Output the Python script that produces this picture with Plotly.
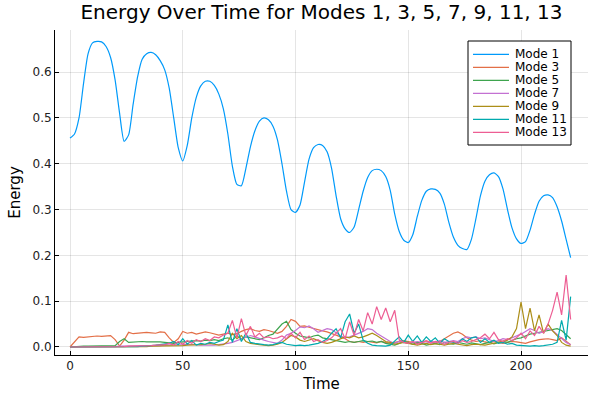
import plotly.graph_objects as go

time = list(range(0, 224, 2))

mode1 = [
    0.456, 0.465, 0.50, 0.575, 0.64, 0.664, 0.667, 0.666, 0.656, 0.632,
    0.583, 0.51, 0.449, 0.463, 0.53, 0.59, 0.628, 0.64, 0.643, 0.638,
    0.625, 0.605, 0.565, 0.5, 0.435, 0.406, 0.44, 0.5, 0.545, 0.57,
    0.58, 0.58, 0.571, 0.552, 0.52, 0.465, 0.395, 0.355, 0.352, 0.39,
    0.437, 0.472, 0.493, 0.5, 0.496, 0.482, 0.452, 0.4, 0.34, 0.3,
    0.294, 0.31, 0.36, 0.41, 0.435, 0.442, 0.44, 0.426, 0.39, 0.33,
    0.28, 0.258, 0.25, 0.262, 0.3, 0.34, 0.37, 0.385, 0.388, 0.385,
    0.372, 0.342, 0.29, 0.252, 0.233, 0.228, 0.245, 0.285, 0.32, 0.34,
    0.345, 0.344, 0.336, 0.312, 0.272, 0.24, 0.222, 0.215, 0.213, 0.235,
    0.28, 0.33, 0.362, 0.376, 0.38, 0.372, 0.345, 0.3, 0.26, 0.236,
    0.226, 0.23, 0.255, 0.29, 0.318, 0.33, 0.332, 0.326, 0.306, 0.275,
    0.235, 0.195,
]

mode3 = [
    0.0, 0.012, 0.022, 0.021, 0.022, 0.023, 0.024, 0.023, 0.024, 0.025,
    0.016, 0.002, 0.015, 0.032, 0.029, 0.030, 0.031, 0.032, 0.031, 0.030,
    0.033, 0.032, 0.020, 0.010, 0.018, 0.034, 0.030, 0.032, 0.028, 0.030,
    0.033, 0.031, 0.029, 0.026, 0.028, 0.030, 0.027, 0.029, 0.034, 0.038,
    0.040, 0.036, 0.034, 0.038, 0.036, 0.033, 0.030, 0.034, 0.045, 0.060,
    0.056, 0.045, 0.046, 0.043, 0.040, 0.038, 0.035, 0.033, 0.030, 0.026,
    0.022, 0.018, 0.012, 0.010, 0.012, 0.010, 0.012, 0.011, 0.009, 0.012,
    0.010, 0.008, 0.010, 0.012, 0.014, 0.012, 0.010, 0.008, 0.011, 0.013,
    0.011, 0.009, 0.012, 0.018, 0.025, 0.030, 0.033, 0.028, 0.020, 0.015,
    0.012, 0.014, 0.011, 0.009, 0.012, 0.010, 0.008, 0.010, 0.012, 0.011,
    0.010, 0.008, 0.011, 0.014, 0.016, 0.017, 0.018, 0.016, 0.014, 0.020,
    0.012, 0.005,
]

mode5 = [
    0.0, 0.001, 0.002, 0.002, 0.002, 0.002, 0.002, 0.002, 0.002, 0.002,
    0.003, 0.012, 0.018, 0.010, 0.011, 0.012, 0.012, 0.011, 0.011, 0.012,
    0.011, 0.010, 0.009, 0.008, 0.010, 0.011, 0.012, 0.013, 0.014, 0.013,
    0.015, 0.014, 0.016, 0.014, 0.018, 0.020, 0.015, 0.024, 0.018, 0.022,
    0.020, 0.018, 0.016, 0.020, 0.025, 0.028, 0.040, 0.050, 0.056, 0.038,
    0.030, 0.024, 0.022, 0.020, 0.024, 0.026, 0.020, 0.018, 0.016, 0.014,
    0.012, 0.010, 0.012, 0.010, 0.012, 0.014, 0.012, 0.013, 0.010, 0.012,
    0.008, 0.006, 0.004, 0.008, 0.012, 0.010, 0.006, 0.010, 0.008, 0.004,
    0.006, 0.008, 0.005, 0.010, 0.007, 0.006, 0.010, 0.008, 0.006, 0.009,
    0.007, 0.005, 0.008, 0.010, 0.007, 0.009, 0.012, 0.010, 0.014, 0.018,
    0.020, 0.024, 0.028, 0.030, 0.032, 0.035, 0.036, 0.038, 0.040, 0.036,
    0.028, 0.018,
]

mode7 = [
    0.0, 0.0, 0.0, 0.0, 0.0, 0.001, 0.001, 0.001, 0.001, 0.001,
    0.001, 0.002, 0.002, 0.002, 0.002, 0.002, 0.003, 0.003, 0.003, 0.003,
    0.003, 0.004, 0.004, 0.004, 0.005, 0.005, 0.006, 0.006, 0.005, 0.004,
    0.004, 0.003, 0.004, 0.005, 0.006, 0.008, 0.010, 0.014, 0.018, 0.022,
    0.025, 0.022, 0.018, 0.015, 0.012, 0.010, 0.008, 0.015, 0.026, 0.030,
    0.036, 0.044, 0.042, 0.046, 0.040, 0.032, 0.036, 0.040, 0.038, 0.030,
    0.024, 0.020, 0.022, 0.026, 0.030, 0.034, 0.040, 0.038, 0.030, 0.024,
    0.018, 0.012, 0.008, 0.012, 0.010, 0.008, 0.010, 0.012, 0.010, 0.008,
    0.012, 0.010, 0.014, 0.010, 0.012, 0.014, 0.012, 0.018, 0.022, 0.020,
    0.022, 0.018, 0.020, 0.016, 0.012, 0.014, 0.018, 0.016, 0.020, 0.024,
    0.028, 0.034, 0.040, 0.036, 0.030, 0.034, 0.040, 0.036, 0.028, 0.020,
    0.010, 0.005,
]

mode9 = [
    0.0, 0.0, 0.0, 0.0, 0.0, 0.0, 0.0, 0.0, 0.0, 0.0,
    0.0, 0.001, 0.001, 0.001, 0.001, 0.001, 0.001, 0.001, 0.002, 0.002,
    0.002, 0.002, 0.003, 0.003, 0.003, 0.003, 0.004, 0.004, 0.004, 0.005,
    0.006, 0.008, 0.006, 0.004, 0.005, 0.012, 0.030, 0.018, 0.025, 0.012,
    0.008, 0.006, 0.005, 0.004, 0.003, 0.004, 0.006, 0.010, 0.018, 0.025,
    0.022, 0.015, 0.012, 0.015, 0.018, 0.014, 0.010, 0.008, 0.010, 0.014,
    0.018, 0.022, 0.020, 0.024, 0.020, 0.022, 0.026, 0.030, 0.025, 0.018,
    0.012, 0.010, 0.006, 0.008, 0.010, 0.008, 0.006, 0.004, 0.006, 0.008,
    0.005, 0.007, 0.006, 0.004, 0.006, 0.008, 0.006, 0.004, 0.003, 0.005,
    0.006, 0.005, 0.004, 0.006, 0.008, 0.010, 0.012, 0.015, 0.022, 0.040,
    0.098, 0.040, 0.085, 0.035, 0.070, 0.030, 0.050, 0.035, 0.025, 0.010,
    0.004, 0.002,
]

mode11 = [
    0.0, 0.0, 0.0, 0.0, 0.0, 0.0, 0.0, 0.0, 0.0, 0.0,
    0.0, 0.0, 0.001, 0.001, 0.001, 0.001, 0.002, 0.002, 0.003, 0.004,
    0.005, 0.006, 0.008, 0.012, 0.005, 0.018, 0.006, 0.014, 0.004, 0.008,
    0.006, 0.010, 0.008, 0.012, 0.015, 0.048, 0.010, 0.040, 0.012, 0.030,
    0.010, 0.008, 0.006, 0.005, 0.004, 0.005, 0.008, 0.010, 0.006, 0.004,
    0.003, 0.004, 0.003, 0.004, 0.006, 0.008, 0.012, 0.018, 0.030, 0.040,
    0.020, 0.055, 0.072, 0.030, 0.050, 0.015, 0.008, 0.004, 0.003, 0.002,
    0.002, 0.004, 0.012, 0.022, 0.010, 0.026, 0.012, 0.024, 0.010, 0.022,
    0.012, 0.020, 0.008, 0.018, 0.012, 0.010, 0.008, 0.018, 0.012, 0.020,
    0.022, 0.010, 0.018, 0.010, 0.015, 0.008, 0.010, 0.006, 0.008, 0.004,
    0.003, 0.002, 0.002, 0.003, 0.002, 0.003, 0.004, 0.006, 0.010, 0.058,
    0.015, 0.110,
]

mode13 = [
    0.0, 0.0, 0.0, 0.0, 0.0, 0.0, 0.0, 0.0, 0.0, 0.0,
    0.001, 0.001, 0.001, 0.002, 0.002, 0.002, 0.003, 0.003, 0.003, 0.004,
    0.004, 0.005, 0.008, 0.004, 0.012, 0.006, 0.014, 0.008, 0.016, 0.012,
    0.018, 0.014, 0.022, 0.020, 0.026, 0.030, 0.058, 0.020, 0.062, 0.025,
    0.045, 0.022, 0.030, 0.020, 0.022, 0.018, 0.020, 0.024, 0.018, 0.030,
    0.020, 0.032, 0.016, 0.024, 0.012, 0.016, 0.010, 0.014, 0.020, 0.030,
    0.040, 0.018, 0.055, 0.025, 0.060, 0.035, 0.075, 0.050, 0.088, 0.060,
    0.085, 0.055, 0.080, 0.015, 0.010, 0.008, 0.012, 0.006, 0.010, 0.014,
    0.008, 0.012, 0.010, 0.006, 0.010, 0.012, 0.008, 0.014, 0.010, 0.012,
    0.016, 0.020, 0.028, 0.018, 0.032, 0.016, 0.012, 0.018, 0.014, 0.020,
    0.030, 0.018, 0.035, 0.025, 0.045, 0.030, 0.050, 0.080, 0.120, 0.070,
    0.157, 0.060,
]

names = ["Mode 1", "Mode 3", "Mode 5", "Mode 7", "Mode 9", "Mode 11", "Mode 13"]
series = [mode1, mode3, mode5, mode7, mode9, mode11, mode13]
colors = ["#009AFA", "#E36F47", "#3EA44E", "#C371D2", "#AC8E18", "#00AAAE", "#ED5E93"]

x_ticks = [0, 50, 100, 150, 200]
y_ticks = [0.0, 0.1, 0.2, 0.3, 0.4, 0.5, 0.6]

W, H = 600, 400
ML, MR, MT, MB = 55, 12, 30, 45
PW, PH = W - ML - MR, H - MT - MB

def px(xp):
    return (xp - ML) / PW

def py(yp):
    return (H - MB - yp) / PH

font = "DejaVu Sans"

fig = go.Figure()
for i, (name, vals, col) in enumerate(zip(names, series, colors)):
    fig.add_trace(go.Scatter(
        x=time, y=vals, mode="lines", name=name,
        line=dict(color=col, width=1.2, shape="spline" if i == 0 else "linear",
                  smoothing=0.6),
        showlegend=False))

# legend box drawn manually to match the compact spacing
shapes = [dict(type="rect", xref="paper", yref="paper",
               x0=px(468), x1=px(571), y0=py(145), y1=py(41),
               line=dict(color="#000000", width=1), fillcolor="white", layer="above")]
annotations = []
for i, (name, col) in enumerate(zip(names, colors)):
    yc = 54.3 + i * 13.0
    shapes.append(dict(type="line", xref="paper", yref="paper",
                       x0=px(473), x1=px(509), y0=py(yc), y1=py(yc),
                       line=dict(color=col, width=1.2), layer="above"))
    annotations.append(dict(text=name, xref="paper", yref="paper",
                            x=px(513), y=py(yc), xanchor="left", yanchor="middle",
                            showarrow=False,
                            font=dict(family=font, size=12, color="#000000")))

axis_common = dict(
    showline=True, linecolor="#000000", linewidth=1,
    ticks="inside", ticklen=4, tickcolor="#000000", tickwidth=1,
    showgrid=True, gridcolor="rgba(0,0,0,0.1)", gridwidth=1,
    zeroline=False, mirror=False, automargin=False,
    tickfont=dict(family=font, size=12, color="#222222"),
)

fig.update_layout(
    width=W, height=H,
    paper_bgcolor="white", plot_bgcolor="white",
    margin=dict(l=ML, r=MR, t=MT, b=MB),
    title=dict(text="Energy Over Time for Modes 1, 3, 5, 7, 9, 11, 13",
               x=0.5, xref="paper", xanchor="center",
               y=0.97, yref="container", yanchor="middle",
               font=dict(family=font, size=20, color="#000000")),
    xaxis=dict(range=[-6.65, 229.7], tickvals=x_ticks,
               title=dict(text="Time", font=dict(family=font, size=15, color="#000000"), standoff=6),
               **axis_common),
    yaxis=dict(range=[-0.0175, 0.692], tickvals=y_ticks, tickformat=".1f",
               title=dict(text="Energy", font=dict(family=font, size=15, color="#000000"), standoff=8),
               **axis_common),
    shapes=shapes,
    annotations=annotations,
    showlegend=False,
)

fig.write_html("out.html", config={"displayModeBar": False},
               post_script="document.body.style.margin='0';")
